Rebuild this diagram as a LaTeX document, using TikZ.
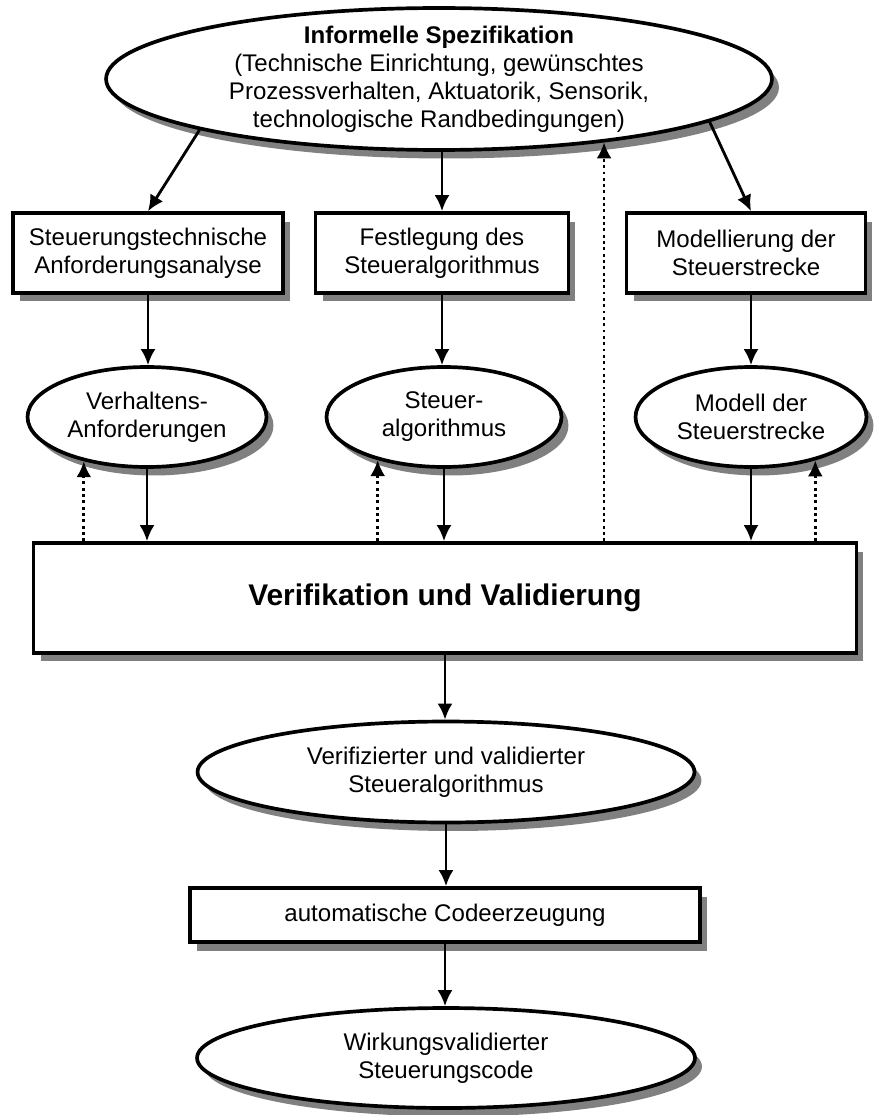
\documentclass[tikz,border=0pt]{standalone}
\usepackage{fontspec}
\setmainfont{Liberation Sans}
\usetikzlibrary{arrows.meta, shapes.geometric, shadows, calc}

\begin{document}
\begin{tikzpicture}[>={Latex[length=0.32cm, width=0.3cm]}, x=0.02cm, y=-0.02cm, line/.style={line width=1.6pt}, border/.style={draw=black, line width=2.1pt}, every node/.style={font=\fontsize{13.7}{16}\selectfont, align=center}]
% Define styles for blocks, ovals and feedback arrows
\tikzstyle{dropgray} = [drop shadow={shadow xshift=0.14cm, shadow yshift=-0.17cm, fill=black!50, opacity=1}]
\tikzstyle{block} = [rectangle, fill=white, border, inner sep=0pt, minimum height=1.6cm, dropgray]
\tikzstyle{oval} = [ellipse, fill=white, border, inner sep=0pt, minimum height=2cm, dropgray]
\tikzstyle{fback} = [line, dotted, ->]

\useasboundingbox (0,0) rectangle (874,1115);

% Nodes placement
\node [oval, minimum width=13.32cm, minimum height=2.84cm, inner ysep=-5pt] (spec) at (439,79) {\textbf{Informelle Spezifikation}\\(Technische Einrichtung, gewünschtes\\Prozessverhalten, Aktuatorik, Sensorik,\\technologische Randbedingungen)};

\node [block, minimum width=5.4cm] (anfa) at (148,253) {Steuerungstechnische\\Anforderungsanalyse};
\node [block, minimum width=5.06cm] (fest) at (442,253) {Festlegung des\\Steueralgorithmus};
\node [block, minimum width=4.78cm] (modl) at (746,253) {Modellierung der\\Steuerstrecke};

\node [oval, minimum width=4.78cm] (verh) at (147,417) {Verhaltens-\\Anforderungen};
\node [oval, minimum width=4.7cm] (salg) at (444,417) {Steuer-\\algorithmus};
\node [oval, minimum width=4.62cm] (mods) at (751,417) {Modell der\\Steuerstrecke};

\node [block, minimum width=16.46cm, minimum height=2.2cm, font=\fontsize{17}{20}\selectfont\bfseries] (vv) at (445,598) {Verifikation und Validierung};

% Result chain
\node [oval, minimum width=9.94cm, minimum height=2.02cm] (vsa) at (446,772) {Verifizierter und validierter\\Steueralgorithmus};
\node [block, minimum width=10.2cm, minimum height=1.08cm] (code) at (445,915) {automatische Codeerzeugung};
\node [oval, minimum width=9.96cm] (wsc) at (446,1058) {Wirkungsvalidierter\\Steuerungscode};

% Draw edges
\draw[line,->] (spec.192) -- (anfa.north);
\draw[line,->] (fest.north |- spec.south) -- (fest.north);
\draw[line,->] (spec.-9) -- (modl.north -| mods.north);
\draw[line,->] (anfa.south) -- (anfa.south |- verh.north);
\draw[line,->] (fest.south) -- (fest.south |- salg.north);
\draw[line,->] (modl.south -| mods.north) -- (mods.north);
\draw[line,->] (verh.south) -- (verh.south |- vv.north);
\draw[line,->] (salg.south) -- (salg.south |- vv.north);
\draw[line,->] (mods.south) -- (mods.south |- vv.north);

% Feedback (dotted)
\draw[fback] (verh.215 |- vv.north) -- (verh.215);
\draw[fback] (salg.213 |- vv.north) -- (salg.213);
\draw[fback] (mods.326 |- vv.north) -- (mods.326);
\draw[fback] (spec.-21 |- vv.north) -- (spec.-21);

% Down to the code
\draw[line,->] (vv.south) -- (vv.south |- vsa.north);
\draw[line,->] (vsa.south) -- (vsa.south |- code.north);
\draw[line,->] (code.south) -- (code.south |- wsc.north);
\end{tikzpicture}
\end{document}
